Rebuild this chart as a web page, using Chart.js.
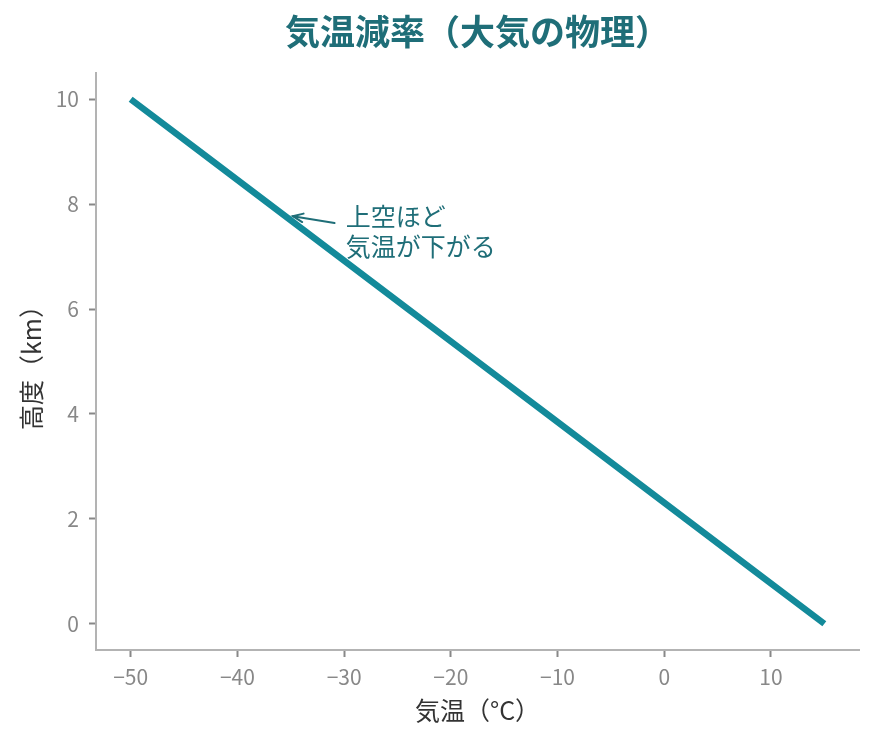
<!DOCTYPE html>
<html lang="ja">
<head>
<meta charset="utf-8">
<script src="https://cdn.jsdelivr.net/npm/chart.js@4/dist/chart.umd.min.js"></script>
<style>
  html, body { margin: 0; padding: 0; background: #fff; }
  #wrap { width: 877px; height: 743px; }
</style>
</head>
<body>
<div id="wrap"><canvas id="lapseChart" width="877" height="743"></canvas></div>
<script>
// altitude (km) and the temperature read at each level (°C)
const altitudes = [0, 1, 2, 3, 4, 5, 6, 7, 8, 9, 10];
const temperatures = [15, 8.5, 2, -4.5, -11, -17.5, -24, -30.5, -37, -43.5, -50];
const xTicks = [-50, -40, -30, -20, -10, 0, 10];
const yTicks = [0, 2, 4, 6, 8, 10];

const titleText = '気温減率（大気の物理）';
const xLabel = '気温（°C）';
const yLabel = '高度（km）';
const noteLines = ['上空ほど', '気温が下がる'];
const notePoint = { x: -34.8, y: 7.77 };  // where the arrow points
const noteTail = { x: -30.9, y: 7.64 };   // arrow start
const noteText = { x: -29.85, y: 7.77 };  // where the text starts

const font = "'Noto Sans CJK JP', 'Noto Sans', sans-serif";
const teal = '#138a9a';
const darkTeal = '#1f6e78';
const tickGrey = '#888888';
const axisGrey = '#b3b3b3';

// arrow + text annotation
const notePlugin = {
  id: 'note',
  afterDatasetsDraw(chart) {
    const ctx = chart.ctx;
    const xs = chart.scales.x, ys = chart.scales.y;
    const tx = xs.getPixelForValue(noteText.x);
    const ty = ys.getPixelForValue(noteText.y);
    const px = xs.getPixelForValue(notePoint.x);
    const py = ys.getPixelForValue(notePoint.y);
    const sx = xs.getPixelForValue(noteTail.x);
    const sy = ys.getPixelForValue(noteTail.y);

    ctx.save();
    const ang = Math.atan2(py - sy, px - sx);
    ctx.strokeStyle = darkTeal;
    ctx.lineWidth = 2;
    ctx.lineCap = 'round';
    ctx.beginPath();
    ctx.moveTo(sx, sy);
    ctx.lineTo(px, py);
    ctx.stroke();
    ctx.beginPath();
    ctx.moveTo(px - 11 * Math.cos(ang - 0.4), py - 11 * Math.sin(ang - 0.4));
    ctx.lineTo(px, py);
    ctx.lineTo(px - 11 * Math.cos(ang + 0.4), py - 11 * Math.sin(ang + 0.4));
    ctx.stroke();

    ctx.fillStyle = darkTeal;
    ctx.font = '25px ' + font;
    ctx.textAlign = 'left';
    ctx.textBaseline = 'middle';
    ctx.fillText(noteLines[0], tx, ty);
    ctx.fillText(noteLines[1], tx, ty + 30);
    ctx.restore();
  }
};

const ctx = document.getElementById('lapseChart').getContext('2d');
new Chart(ctx, {
  type: 'scatter',
  data: {
    datasets: [{
      data: altitudes.map((h, i) => ({ x: temperatures[i], y: h })),
      showLine: true,
      borderColor: teal,
      borderWidth: 6.5,
      pointRadius: 0,
      pointHoverRadius: 0,
      fill: false
    }]
  },
  options: {
    responsive: false,
    animation: false,
    layout: { padding: { left: 16, right: 18, top: 0, bottom: 18 } },
    plugins: {
      legend: { display: false },
      tooltip: { enabled: false },
      title: {
        display: true,
        fullSize: false,
        text: titleText,
        color: darkTeal,
        font: { family: font, size: 35, weight: 'bold', lineHeight: 1.2 },
        padding: { top: 11, bottom: 20 }
      }
    },
    scales: {
      x: {
        type: 'linear',
        min: -53.25,
        max: 18.25,
        afterBuildTicks: (s) => { s.ticks = xTicks.map(v => ({ value: v })); },
        afterFit: (s) => { s.height = 75; },
        border: { display: true, color: axisGrey, width: 2 },
        grid: { drawOnChartArea: false, drawTicks: true, tickLength: 7, tickWidth: 2, tickColor: tickGrey },
        ticks: {
          color: tickGrey,
          padding: 7,
          maxRotation: 0,
          font: { family: font, size: 21 },
          callback: (v) => (v < 0 ? '\u2212' + Math.abs(v) : String(v))
        },
        title: {
          display: true,
          text: xLabel,
          color: '#333333',
          font: { family: font, size: 25 },
          padding: { top: 2, bottom: 0 }
        }
      },
      y: {
        type: 'linear',
        min: -0.5,
        max: 10.5,
        afterBuildTicks: (s) => { s.ticks = yTicks.map(v => ({ value: v })); },
        afterFit: (s) => { s.width = 80; },
        border: { display: true, color: axisGrey, width: 2 },
        grid: { drawOnChartArea: false, drawTicks: true, tickLength: 7, tickWidth: 2, tickColor: tickGrey },
        ticks: {
          color: tickGrey,
          padding: 10,
          font: { family: font, size: 21 }
        },
        title: {
          display: true,
          text: yLabel,
          color: '#333333',
          font: { family: font, size: 25 },
          padding: { top: 0, bottom: 4 }
        }
      }
    }
  },
  plugins: [notePlugin]
});
</script>
</body>
</html>
